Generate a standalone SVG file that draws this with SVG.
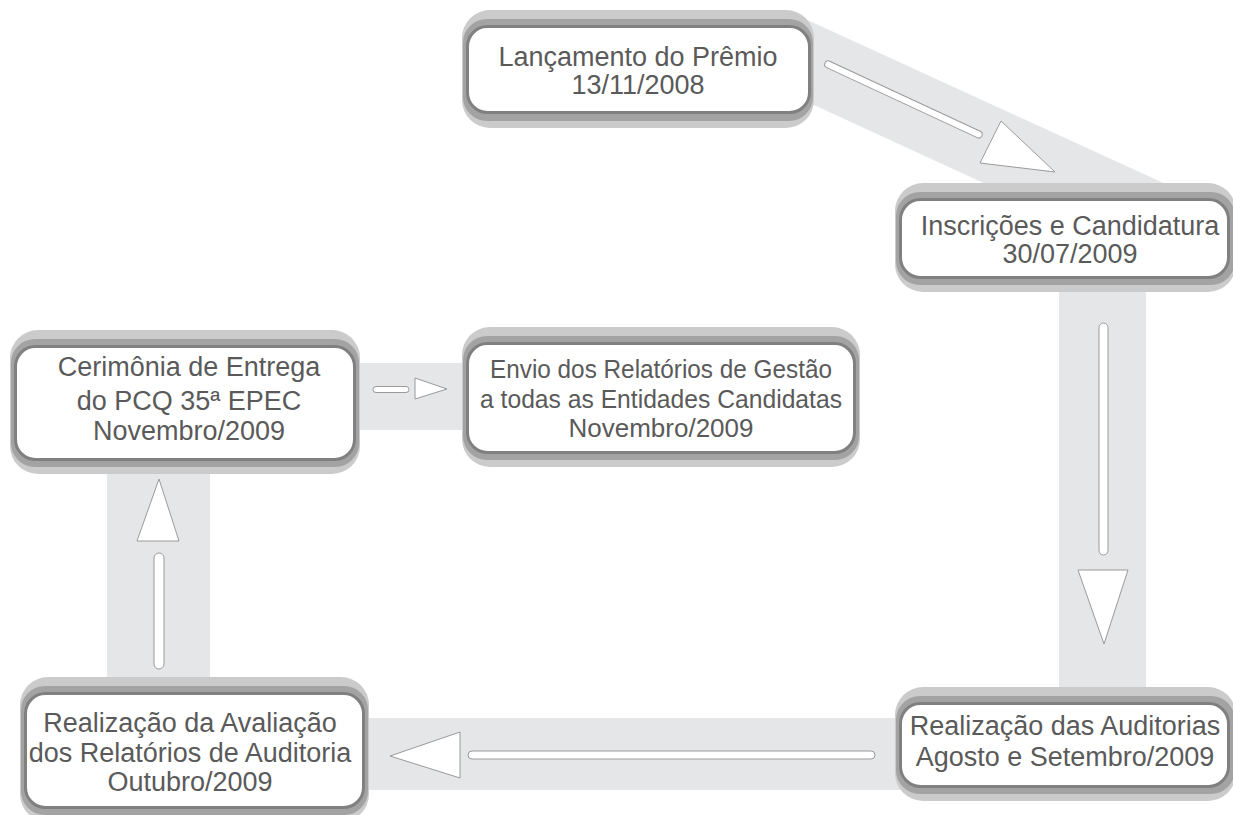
<svg xmlns="http://www.w3.org/2000/svg" width="1233" height="815" viewBox="0 0 1233 815">
<defs>
<style>
.band{fill:#e5e6e7}
.rod{fill:#fff;stroke:#9a9a9a;stroke-width:1}
.head{fill:#fff;stroke:#9a9a9a;stroke-width:1;stroke-linejoin:miter}
.sh1{fill:#cbcbcb}
.sh2{fill:#a3a3a3}
.face{fill:#fff;stroke:#808080;stroke-width:3}
.t{font-family:"Liberation Sans","Noto Sans",sans-serif;font-size:27px;fill:#5a5a5a;text-anchor:middle}
.s{font-size:26px}
</style>
</defs>
<rect width="1233" height="815" fill="#fff"/>
<g id="connectors">
<polygon class="band" points="790,12 1170,186 990,186 790,94"/>
<rect class="band" x="1059" y="285" width="87" height="405"/>
<rect class="band" x="360" y="718" width="540" height="72"/>
<rect class="band" x="107" y="465" width="103" height="215"/>
<rect class="band" x="355" y="363" width="110" height="67"/>
<rect class="rod" x="0" y="-3.5" width="173" height="7" rx="3.5" transform="translate(825,63) rotate(24.94)"/>
<polygon class="head" points="1001,121 980,163 1055,172"/>
<rect class="rod" x="1099" y="323" width="9" height="232" rx="4.5"/>
<polygon class="head" points="1078,570 1128,570 1104,644"/>
<rect class="rod" x="468" y="751" width="407" height="8" rx="4"/>
<polygon class="head" points="390,756 460,732 460,778"/>
<rect class="rod" x="154" y="553" width="10" height="116" rx="5"/>
<polygon class="head" points="159,479 137,541 179,541"/>
<rect class="rod" x="373" y="386.5" width="36" height="6" rx="3"/>
<polygon class="head" points="415,378 415,399 447,389"/>
</g>
<g id="n1">
<rect class="sh1" x="462" y="10" width="352" height="118" rx="28"/>
<rect class="sh2" x="463" y="19" width="350" height="102" rx="24"/>
<rect class="face" x="467.5" y="26.5" width="342" height="86" rx="20"/>
<text class="t" x="638" y="66">Lançamento do Prêmio</text>
<text class="t" x="638" y="94">13/11/2008</text>
</g>
<g id="n2">
<rect class="sh1" x="895" y="183" width="341" height="109" rx="28"/>
<rect class="sh2" x="896" y="192" width="339" height="93" rx="24"/>
<rect class="face" x="900.5" y="199.5" width="328" height="78" rx="20"/>
<text class="t" x="1070" y="235">Inscrições e Candidatura</text>
<text class="t" x="1070" y="263">30/07/2009</text>
</g>
<g id="n3">
<rect class="sh1" x="895" y="687" width="341" height="114" rx="28"/>
<rect class="sh2" x="896" y="696" width="339" height="98" rx="24"/>
<rect class="face" x="900.5" y="703.5" width="328" height="83" rx="20"/>
<text class="t" x="1065" y="735">Realização das Auditorias</text>
<text class="t" x="1065" y="766">Agosto e Setembro/2009</text>
</g>
<g id="n4">
<rect class="sh1" x="20" y="677" width="349" height="145" rx="28"/>
<rect class="sh2" x="21" y="686" width="347" height="129" rx="24"/>
<rect class="face" x="25.5" y="693.5" width="338" height="114" rx="20"/>
<text class="t" x="190" y="732">Realização da Avaliação</text>
<text class="t" x="190" y="762">dos Relatórios de Auditoria</text>
<text class="t" x="190" y="791">Outubro/2009</text>
</g>
<g id="n5">
<rect class="sh1" x="10" y="330" width="350" height="144" rx="28"/>
<rect class="sh2" x="11" y="339" width="348" height="128" rx="24"/>
<rect class="face" x="15.5" y="346.5" width="339" height="113" rx="20"/>
<text class="t" x="189" y="376">Cerimônia de Entrega</text>
<text class="t" x="189" y="410">do PCQ 35ª EPEC</text>
<text class="t" x="189" y="440">Novembro/2009</text>
</g>
<g id="n6">
<rect class="sh1" x="462" y="327" width="398" height="140" rx="28"/>
<rect class="sh2" x="463" y="336" width="396" height="124" rx="24"/>
<rect class="face" x="467.5" y="343.5" width="387" height="109" rx="20"/>
<text class="t s" x="661" y="378" textLength="342" lengthAdjust="spacingAndGlyphs">Envio dos Relatórios de Gestão</text>
<text class="t s" x="661" y="408" textLength="362" lengthAdjust="spacingAndGlyphs">a todas as Entidades Candidatas</text>
<text class="t s" x="661" y="437">Novembro/2009</text>
</g>
</svg>
